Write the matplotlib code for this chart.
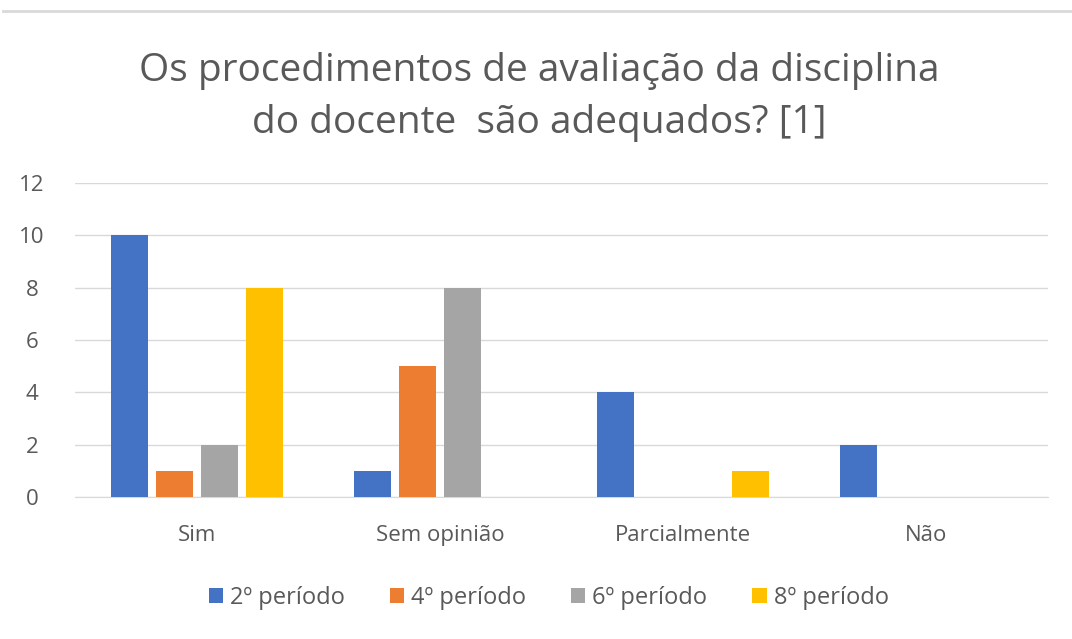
import matplotlib
matplotlib.use("Agg")
import matplotlib.pyplot as plt
import numpy as np

plt.rcParams["font.family"] = ["Open Sans", "DejaVu Sans"]

categorias = ["Sim", "Sem opinião", "Parcialmente", "Não"]
series = ["2º período", "4º período", "6º período", "8º período"]
p2 = [10, 1, 4, 2]
p4 = [1, 5, 0, 0]
p6 = [2, 8, 0, 0]
p8 = [8, 0, 1, 0]
cores = ["#4472C4", "#ED7D31", "#A5A5A5", "#FFC000"]

fig = plt.figure(figsize=(10.72, 6.39), dpi=100)
ax = fig.add_axes([75 / 1072, 1 - 497 / 639, (1048 - 75) / 1072, (497 - 183) / 639])

# linha cinza no topo
fig.add_artist(plt.Line2D([3 / 1072, 1], [1 - 11 / 639] * 2, color="#d9d9d9", lw=2))

x = np.arange(len(categorias))
passo = 0.185
largura = 0.152
for i, (vals, nome, cor) in enumerate(zip([p2, p4, p6, p8], series, cores)):
    ax.bar(x + (i - 1.5) * passo, vals, width=largura, color=cor, label=nome, zorder=3)

ax.set_xlim(-0.5, 3.5)
ax.set_ylim(0, 12)
ax.set_yticks(range(0, 13, 2))
ax.set_xticks(x)
ax.set_xticklabels(categorias)
ax.tick_params(axis="both", length=0, labelsize=16, colors="#595959")
ax.tick_params(axis="x", pad=20)
ax.tick_params(axis="y", pad=31)
for lbl in ax.get_yticklabels():
    lbl.set_horizontalalignment("center")
ax.grid(axis="y", color="#d9d9d9", lw=1, zorder=0)
for s in ["top", "right", "left"]:
    ax.spines[s].set_visible(False)
ax.spines["bottom"].set_color("#d9d9d9")

fig.text(0.503, 1 - 97 / 639, "Os procedimentos de avaliação da disciplina\ndo docente  são adequados? [1]",
         ha="center", va="center", fontsize=28, color="#595959", linespacing=1.5)

leg = fig.legend(loc="center", bbox_to_anchor=(0.512, 1 - 598 / 639), ncol=4, frameon=False,
                 fontsize=17, handlelength=0.6, handleheight=0.6, handletextpad=0.3,
                 columnspacing=1.9, labelcolor="#595959")

fig.savefig("out.png", dpi=100)
